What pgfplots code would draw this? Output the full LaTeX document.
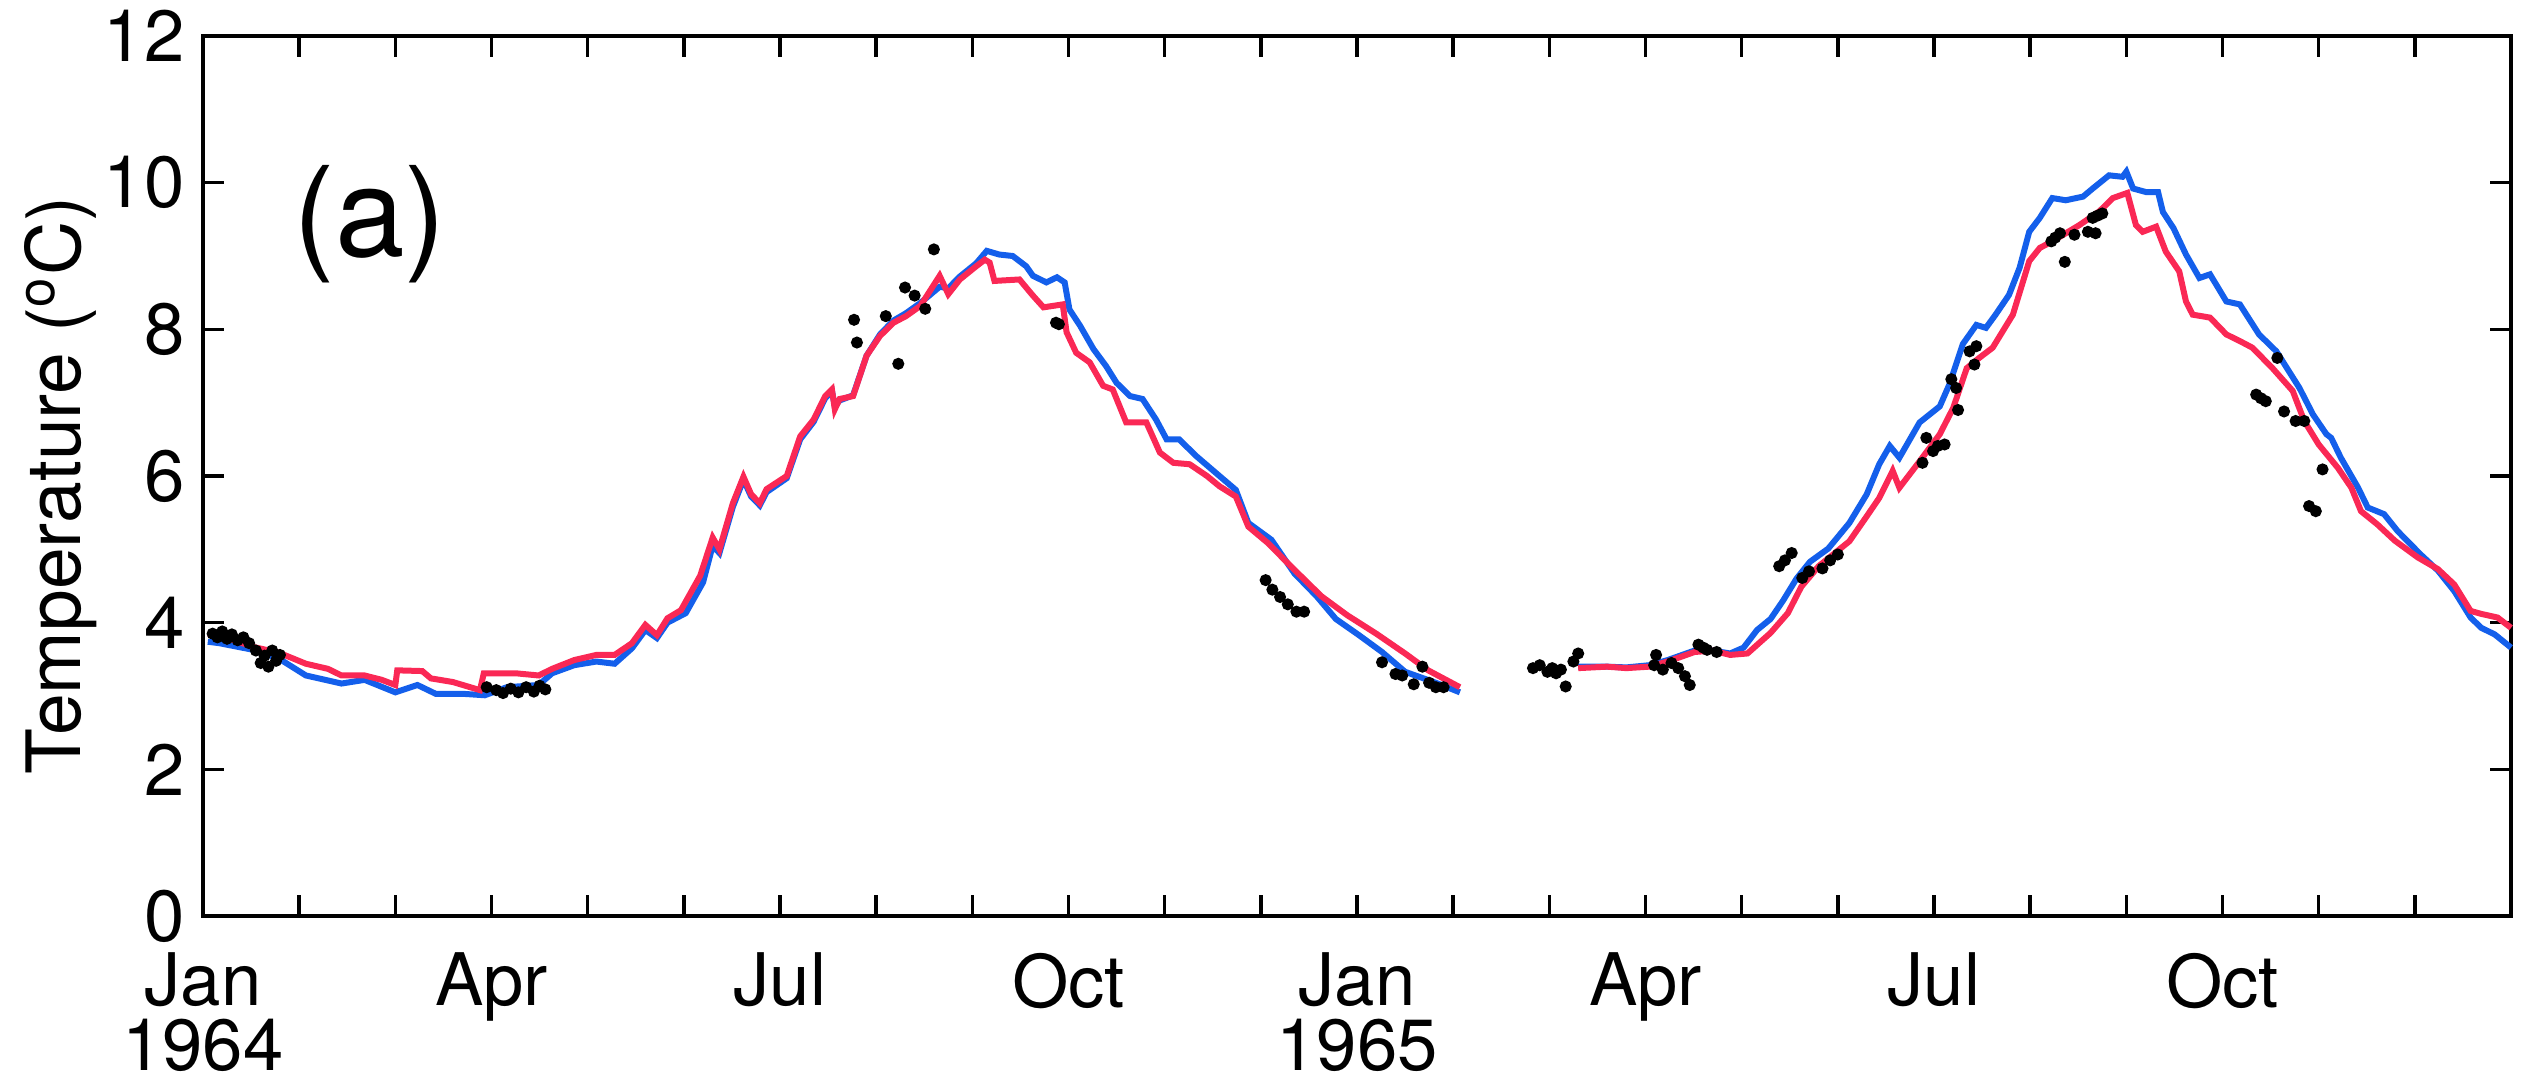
\documentclass[border=0pt]{standalone}
\usepackage{fontspec}
\setmainfont{TeX Gyre Heros}
\usepackage{pgfplots}
\pgfplotsset{compat=1.18}
\definecolor{modelblue}{RGB}{20,95,235}
\definecolor{modelred}{RGB}{250,40,85}

\begin{document}
\begin{tikzpicture}
% page = axis box plus the margins of the reference
\path[use as bounding box] (-40.6pt,-33.6pt) rectangle (464.4pt,183.2pt);
\begin{axis}[
    at={(0pt,0pt)}, anchor=south west,
    scale only axis,
    width=461.6pt, height=176pt,
    xmin=0, xmax=24, ymin=0, ymax=12,
    xtick={0,1,...,24},
    xticklabels={Jan,,,Apr,,,Jul,,,Oct,,,Jan,,,Apr,,,Jul,,,Oct,,,},
    ytick={0,2,...,12},
    tick align=inside,
    xtick pos=both, ytick pos=both,
    xticklabel pos=lower, yticklabel pos=left,
    major tick length=4.2pt,
    every tick/.style={black, line width=0.7pt},
    axis line style={line width=0.9pt},
    tick label style={font=\fontsize{14.5}{17}\selectfont},
    xticklabel style={anchor=north, inner sep=0pt, yshift=-7.2pt},
    yticklabel style={anchor=east, inner sep=0pt, xshift=-3.5pt},
    /pgf/number format/assume math mode=true,
    ylabel={Temperature (\textsuperscript{o}C)},
    ylabel style={at={(axis description cs:-0.0615,0.489)}, anchor=center,
                  font=\fontsize{15}{17}\selectfont},
    clip=false,
]

% blue model, 1964 segment
\addplot[modelblue, line width=1.2pt] coordinates {
(0.05,3.74) (0.17,3.72) (0.52,3.63) (0.79,3.51) (1.07,3.28) (1.44,3.17)
(1.68,3.22) (2.00,3.05) (2.23,3.15) (2.42,3.03) (2.70,3.03) (2.93,3.01)
(3.16,3.12) (3.49,3.15) (3.63,3.31) (3.86,3.42) (4.09,3.47) (4.28,3.44)
(4.46,3.65) (4.60,3.90) (4.72,3.79) (4.83,4.00) (5.02,4.13) (5.20,4.55)
(5.30,5.05) (5.37,4.95) (5.51,5.58) (5.62,5.95) (5.70,5.72) (5.79,5.60)
(5.86,5.78) (6.07,5.97) (6.21,6.50) (6.35,6.74) (6.47,7.06) (6.54,7.16)
(6.57,6.95) (6.62,7.03) (6.76,7.10) (6.90,7.64) (7.04,7.93) (7.18,8.12)
(7.31,8.22) (7.46,8.36) (7.66,8.58) (7.75,8.56) (7.87,8.72) (8.04,8.90)
(8.15,9.07) (8.28,9.02) (8.42,9.00) (8.56,8.86) (8.63,8.73) (8.77,8.64)
(8.88,8.71) (8.96,8.64) (9.01,8.27) (9.12,8.05) (9.26,7.73) (9.39,7.50)
(9.50,7.27) (9.64,7.09) (9.77,7.05) (9.91,6.77) (10.02,6.50) (10.15,6.50)
(10.33,6.27) (10.57,6.00) (10.74,5.81) (10.87,5.36) (11.11,5.13) (11.35,4.67)
(11.58,4.36) (11.78,4.05) (12.02,3.83) (12.26,3.60) (12.50,3.33) (12.80,3.19)
(13.07,3.05)
};
% blue model, 1965 segment
\addplot[modelblue, line width=1.2pt] coordinates {
(14.30,3.40) (14.60,3.40) (14.80,3.39) (15.04,3.42) (15.23,3.49) (15.51,3.62)
(15.70,3.62) (15.88,3.58) (16.02,3.66) (16.16,3.90) (16.30,4.05) (16.43,4.30)
(16.57,4.60) (16.71,4.83) (16.90,5.01) (17.12,5.36) (17.30,5.75) (17.43,6.16)
(17.54,6.41) (17.64,6.25) (17.85,6.73) (18.06,6.95) (18.16,7.25) (18.30,7.80)
(18.44,8.06) (18.54,8.02) (18.64,8.20) (18.78,8.47) (18.89,8.84) (18.99,9.33)
(19.10,9.52) (19.23,9.79) (19.37,9.76) (19.55,9.81) (19.65,9.92) (19.82,10.10)
(19.96,10.08) (20.00,10.15) (20.07,9.92) (20.21,9.87) (20.33,9.87) (20.38,9.60)
(20.49,9.38) (20.62,9.02) (20.76,8.70) (20.87,8.75) (21.04,8.38) (21.18,8.34)
(21.38,7.93) (21.56,7.70) (21.80,7.20) (21.94,6.84) (22.08,6.57) (22.13,6.52)
(22.23,6.25) (22.41,5.84) (22.51,5.57) (22.68,5.48) (22.82,5.25) (23.06,4.93)
(23.24,4.71) (23.41,4.43) (23.58,4.07) (23.69,3.93) (23.83,3.84) (24.00,3.66)
};

% red model, 1964 segment
\addplot[modelred, line width=1.2pt] coordinates {
(0.05,3.85) (0.17,3.83) (0.52,3.67) (0.79,3.59) (1.07,3.44) (1.30,3.37)
(1.44,3.28) (1.68,3.28) (1.86,3.22) (2.00,3.15) (2.02,3.35) (2.28,3.34)
(2.37,3.24) (2.60,3.19) (2.88,3.08) (2.92,3.31) (3.25,3.31) (3.49,3.28)
(3.63,3.37) (3.86,3.49) (4.09,3.56) (4.28,3.56) (4.46,3.72) (4.60,3.97)
(4.72,3.83) (4.83,4.06) (4.97,4.17) (5.17,4.64) (5.30,5.16) (5.37,5.00)
(5.51,5.63) (5.62,5.99) (5.70,5.75) (5.79,5.63) (5.86,5.82) (6.07,6.00)
(6.21,6.54) (6.35,6.77) (6.47,7.09) (6.54,7.18) (6.57,6.91) (6.62,7.05)
(6.76,7.09) (6.90,7.64) (7.04,7.91) (7.18,8.09) (7.31,8.18) (7.46,8.32)
(7.66,8.73) (7.75,8.48) (7.87,8.68) (8.04,8.86) (8.13,8.95) (8.18,8.91)
(8.23,8.66) (8.49,8.68) (8.63,8.46) (8.74,8.30) (8.94,8.34) (8.98,7.96)
(9.08,7.68) (9.22,7.55) (9.36,7.23) (9.46,7.18) (9.60,6.73) (9.81,6.73)
(9.95,6.32) (10.09,6.18) (10.26,6.16) (10.44,6.00) (10.57,5.86) (10.74,5.72)
(10.87,5.31) (11.07,5.09) (11.35,4.72) (11.63,4.36) (11.90,4.10) (12.20,3.85)
(12.50,3.58) (12.74,3.35) (13.07,3.12)
};
% red model, 1965 segment
\addplot[modelred, line width=1.2pt] coordinates {
(14.30,3.38) (14.60,3.40) (14.80,3.38) (15.04,3.40) (15.23,3.47) (15.51,3.60)
(15.70,3.62) (15.88,3.56) (16.06,3.58) (16.30,3.86) (16.48,4.13) (16.62,4.49)
(16.80,4.77) (17.12,5.11) (17.30,5.45) (17.43,5.70) (17.57,6.07) (17.64,5.84)
(17.85,6.20) (18.06,6.57) (18.20,6.93) (18.34,7.47) (18.47,7.61) (18.61,7.75)
(18.82,8.20) (18.99,8.93) (19.10,9.11) (19.23,9.20) (19.51,9.42) (19.72,9.61)
(19.86,9.79) (20.01,9.86) (20.10,9.42) (20.17,9.33) (20.31,9.40) (20.41,9.06)
(20.55,8.79) (20.62,8.38) (20.69,8.20) (20.87,8.16) (21.04,7.93) (21.18,7.84)
(21.31,7.75) (21.52,7.47) (21.73,7.16) (21.85,6.75) (22.00,6.43) (22.20,6.11)
(22.34,5.84) (22.44,5.52) (22.61,5.34) (22.79,5.12) (23.03,4.89) (23.24,4.73)
(23.41,4.52) (23.58,4.16) (23.69,4.12) (23.86,4.07) (24.00,3.93)
};

% observations
\addplot[only marks, mark=*, mark size=1pt, black] coordinates {
(0.10,3.85) (0.15,3.80) (0.20,3.88) (0.25,3.78) (0.30,3.84) (0.36,3.76)
(0.42,3.80) (0.48,3.72) (0.55,3.62) (0.60,3.45) (0.64,3.55) (0.68,3.40)
(0.72,3.62) (0.76,3.48) (0.80,3.56)
(2.95,3.12) (3.05,3.08) (3.12,3.04) (3.20,3.10) (3.28,3.05) (3.36,3.12)
(3.44,3.06) (3.50,3.14) (3.56,3.09)
(6.77,8.13) (6.80,7.82) (7.10,8.18) (7.23,7.53) (7.30,8.57) (7.40,8.46)
(7.51,8.28) (7.60,9.09)
(8.87,8.09) (8.90,8.07)
(11.05,4.58) (11.12,4.45) (11.20,4.35) (11.28,4.25) (11.37,4.15) (11.45,4.15)
(12.26,3.46) (12.40,3.30) (12.47,3.28) (12.59,3.16) (12.68,3.40) (12.75,3.18)
(12.82,3.12) (12.90,3.12)
(13.83,3.38) (13.90,3.42) (13.98,3.33) (14.03,3.38) (14.07,3.31) (14.12,3.36)
(14.17,3.13) (14.25,3.47) (14.30,3.58)
(15.09,3.42) (15.11,3.56) (15.18,3.36) (15.27,3.45) (15.34,3.38) (15.41,3.27)
(15.46,3.15) (15.55,3.70) (15.60,3.66) (15.64,3.63) (15.74,3.60)
(16.39,4.77) (16.45,4.85) (16.52,4.95) (16.63,4.61) (16.70,4.70) (16.84,4.74)
(16.92,4.85) (17.00,4.93)
(17.88,6.18) (17.92,6.52) (17.99,6.34) (18.04,6.41) (18.11,6.43) (18.18,7.32)
(18.23,7.20) (18.25,6.90) (18.37,7.70) (18.42,7.52) (18.44,7.77)
(19.22,9.20) (19.26,9.25) (19.31,9.31) (19.36,8.92) (19.46,9.29) (19.60,9.33)
(19.65,9.52) (19.68,9.31) (19.70,9.55) (19.75,9.58)
(21.35,7.11) (21.40,7.06) (21.45,7.02) (21.57,7.61) (21.64,6.88) (21.76,6.75)
(21.85,6.75) (21.90,5.59) (21.97,5.52) (22.04,6.09)
};

% year lines under the January labels
\node[anchor=base, inner sep=0pt, font=\fontsize{14.5}{17}\selectfont]
    at (axis cs:0,-2.11) {1964};
\node[anchor=base, inner sep=0pt, font=\fontsize{14.5}{17}\selectfont]
    at (axis cs:12,-2.11) {1965};

\node[anchor=west, inner sep=0pt, font=\fontsize{25}{30}\selectfont]
    at (axis cs:0.93,9.44) {(a)};
\end{axis}
\end{tikzpicture}
\end{document}
